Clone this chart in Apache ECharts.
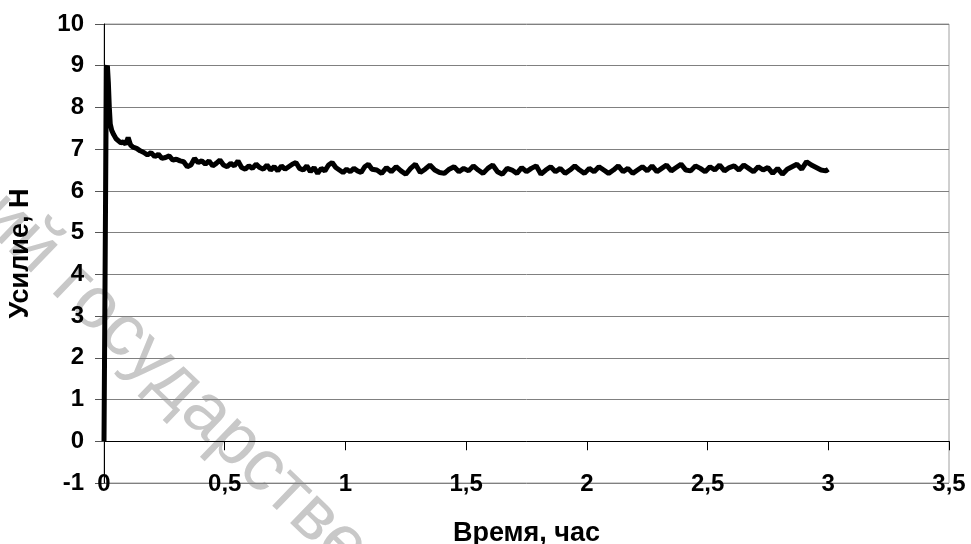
<!DOCTYPE html>
<html><head><meta charset="utf-8">
<script src="https://cdn.jsdelivr.net/npm/echarts@6/dist/echarts.min.js"></script>
<style>html,body{margin:0;padding:0;background:#fff}#c{width:971px;height:544px}</style>
</head><body><div id="c"></div>
<script>
const times = [0.000,0.010,0.014,0.018,0.022,0.026,0.032,0.040,0.050,0.060,0.070,0.080,0.090,0.100,0.110,0.120,0.135,0.150,0.165,0.180,0.195,0.210,0.225,0.240,0.255,0.270,0.285,0.300,0.315,0.330,0.345,0.360,0.375,0.390,0.405,0.420,0.435,0.450,0.465,0.480,0.495,0.510,0.525,0.540,0.555,0.570,0.585,0.600,0.615,0.630,0.645,0.660,0.675,0.690,0.705,0.720,0.735,0.750,0.765,0.780,0.795,0.810,0.825,0.840,0.855,0.870,0.885,0.900,0.915,0.930,0.945,0.960,0.975,0.990,1.005,1.020,1.035,1.050,1.065,1.080,1.095,1.110,
1.13,1.15,1.17,1.19,1.21,1.23,1.25,1.27,1.29,1.31,1.33,1.35,1.37,1.39,1.41,1.43,1.45,1.47,1.49,1.51,1.53,1.55,1.57,1.59,1.61,1.63,1.65,1.67,1.69,1.71,1.73,1.75,1.77,1.79,1.81,1.83,1.85,1.87,1.89,1.91,1.93,1.95,1.97,1.99,
2.01,2.03,2.05,2.07,2.09,2.11,2.13,2.15,2.17,2.19,2.21,2.23,2.25,2.27,2.29,2.31,2.33,2.35,2.37,2.39,2.41,2.43,2.45,2.47,2.49,2.51,2.53,2.55,2.57,2.59,2.61,2.63,2.65,2.67,2.69,2.71,2.73,2.75,2.77,2.79,2.81,2.83,2.85,2.87,2.89,2.91,2.93,2.95,2.97,2.99,3.00];
const forces = [0.00,8.95,9.00,8.60,8.00,7.60,7.45,7.35,7.25,7.20,7.15,7.18,7.12,7.28,7.10,7.05,7.02,6.96,6.92,6.86,6.92,6.82,6.88,6.78,6.80,6.84,6.74,6.76,6.72,6.70,6.58,6.62,6.78,6.68,6.72,6.64,6.72,6.60,6.66,6.74,6.62,6.58,6.66,6.60,6.72,6.56,6.52,6.60,6.54,6.64,6.56,6.52,6.62,6.50,6.58,6.48,6.60,6.52,6.58,6.64,6.68,6.54,6.50,6.60,6.46,6.56,6.42,6.54,6.48,6.62,6.68,6.56,6.50,6.44,6.52,6.46,6.54,6.48,6.44,6.58,6.64,6.52,
6.50,6.42,6.56,6.46,6.58,6.48,6.40,6.54,6.64,6.44,6.52,6.62,6.50,6.44,6.42,6.52,6.58,6.46,6.54,6.48,6.60,6.50,6.42,6.54,6.62,6.46,6.40,6.54,6.50,6.42,6.56,6.46,6.54,6.60,6.40,6.50,6.58,6.46,6.54,6.42,6.50,6.60,6.50,6.42,
6.54,6.46,6.58,6.50,6.42,6.50,6.60,6.46,6.54,6.42,6.50,6.58,6.48,6.60,6.46,6.54,6.62,6.48,6.56,6.64,6.50,6.48,6.60,6.54,6.46,6.58,6.50,6.62,6.48,6.56,6.60,6.50,6.62,6.54,6.46,6.58,6.50,6.56,6.42,6.54,6.40,6.52,6.58,6.64,6.52,6.70,6.62,6.56,6.50,6.48,6.52];
const xTickLabels = {'0':'0','0.5':'0,5','1':'1','1.5':'1,5','2':'2','2.5':'2,5','3':'3','3.5':'3,5'};
const xTitle = 'Время, час';
const yTitle = 'Усилие, Н';
const watermark = 'ий государстве';

const chart = echarts.init(document.getElementById('c'));
const font = '"Liberation Sans", Arial, sans-serif';
chart.setOption({
  animation: false,
  backgroundColor: '#fff',
  grid: {left: 104, right: 22, top: 24, bottom: 61, outerBoundsMode: 'none', containLabel: false, show: true, borderColor: '#a0a0a0', borderWidth: 1, backgroundColor: 'transparent'},
  graphic: [{
    type: 'text', z: -10, silent: true,
    x: -10, y: 205, rotation: -44 * Math.PI / 180,
    style: {text: watermark, fill: '#c8c8c8', font: '73px "Liberation Sans", Arial, sans-serif', textAlign: 'left', textVerticalAlign: 'middle'}
  }],
  xAxis: [{
    type: 'value', min: 0, max: 3.5, interval: 0.5, position: 'bottom',
    axisLine: {show: false, onZero: false}, axisTick: {show: false}, splitLine: {show: false},
    axisLabel: {margin: -11, color: '#000', fontSize: 24, fontWeight: 'bold', fontFamily: font, formatter: v => xTickLabels[String(v)] ?? String(v)},
    name: xTitle, nameLocation: 'middle', nameGap: 37,
    nameTextStyle: {color: '#000', fontSize: 27, fontWeight: 'bold', fontFamily: font}
  }, {
    type: 'value', min: 0, max: 3.5, interval: 0.5, position: 'bottom',
    axisLine: {show: true, onZero: true, onZeroAxisIndex: 0, lineStyle: {color: '#000', width: 1}},
    axisTick: {show: true, length: 9, lineStyle: {color: '#000'}},
    axisLabel: {show: false}, splitLine: {show: false}
  }],
  yAxis: [{
    type: 'value', min: -1, max: 10, interval: 1,
    axisLine: {show: true, onZero: false, lineStyle: {color: '#000', width: 1}},
    axisTick: {show: true, length: 9, lineStyle: {color: '#555'}},
    splitLine: {show: true, lineStyle: {color: '#808080', width: 1}},
    axisLabel: {margin: 20, color: '#000', fontSize: 24, fontWeight: 'bold', fontFamily: font},
    name: yTitle, nameLocation: 'middle', nameGap: 70, nameRotate: 90,
    nameTextStyle: {color: '#000', fontSize: 27, fontWeight: 'bold', fontFamily: font}
  }],
  series: [{
    type: 'line', xAxisIndex: 0, yAxisIndex: 0, showSymbol: false, symbol: 'none',
    data: times.map((t, i) => [t, forces[i]]),
    lineStyle: {color: '#000', width: 5, join: 'bevel'}
  }]
});
</script></body></html>
